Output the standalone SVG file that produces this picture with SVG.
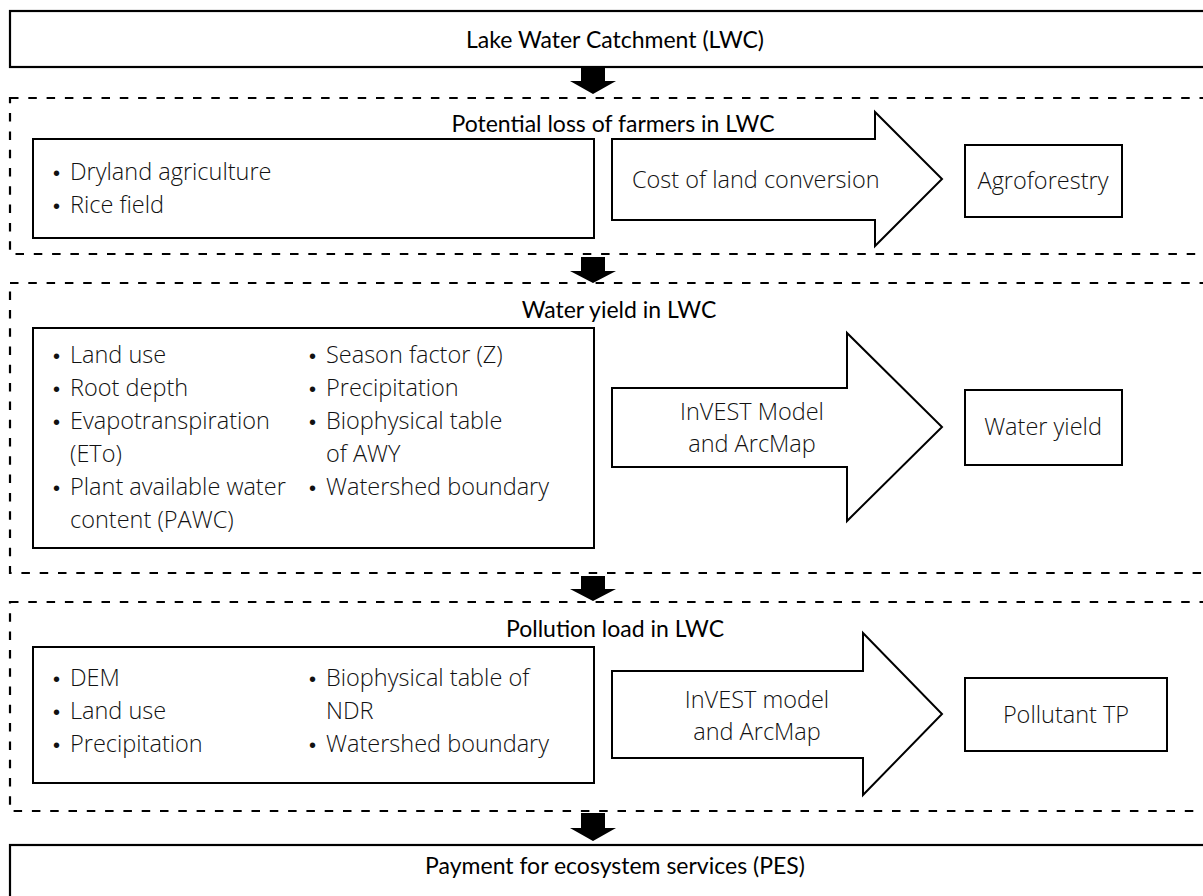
<svg xmlns="http://www.w3.org/2000/svg" width="1203" height="896" viewBox="0 0 1203 896">
<style>
.solid{fill:#fff;stroke:#000;stroke-width:2.2}
.dash{fill:none;stroke:#000;stroke-width:2.2;stroke-dasharray:8.5 9.8}
.box{fill:#fff;stroke:#000;stroke-width:2}
.title{font-family:Lato,"Liberation Sans",sans-serif;font-size:23px;fill:#000;text-anchor:middle}
.body{font-family:"Open Sans","Noto Sans",sans-serif;font-weight:300;font-size:23.5px;fill:#111}
.b{font-family:"Liberation Sans",sans-serif;font-weight:400;font-size:20px}
.mid{text-anchor:middle}
.dn{fill:#000}
</style>
<g id="lwc">
<rect class="solid" x="10" y="11" width="1210" height="56"/>
<text class="title" x="615" y="48">Lake Water Catchment (LWC)</text>
</g>
<g id="connectors">
<polygon class="dn" points="581,68 605,68 605,81 616,81 593,94 570,81 581,81"/>
<polygon class="dn" points="581,257 605,257 605,271 616,271 593,283 570,271 581,271"/>
<polygon class="dn" points="581,576 605,576 605,589 616,589 593,601 570,589 581,589"/>
<polygon class="dn" points="581,813 605,813 605,828 616,828 593,841 570,828 581,828"/>
</g>
<g id="loss">
<rect class="dash" x="10" y="98" width="1210" height="156"/>
<text class="title" x="613" y="132">Potential loss of farmers in LWC</text>
<rect class="box" x="33" y="139" width="561" height="99"/>
<text class="body"><tspan class="b" x="53" y="180">•</tspan><tspan x="70" y="180">Dryland agriculture</tspan><tspan class="b" x="53" y="213">•</tspan><tspan x="70" y="213">Rice field</tspan></text>
<path class="box" d="M612,139 H875 V112 L942,179 L875,246 V220 H612 Z"/>
<text class="body" x="632" y="188">Cost of land conversion</text>
<rect class="box" x="965" y="145" width="157" height="72"/>
<text class="body mid" x="1043" y="189">Agroforestry</text>
</g>
<g id="water">
<rect class="dash" x="10" y="283" width="1210" height="290"/>
<text class="title" x="619" y="318">Water yield in LWC</text>
<rect class="box" x="33" y="328" width="561" height="220"/>
<text class="body">
<tspan class="b" x="53" y="363">•</tspan><tspan x="70" y="363">Land use</tspan>
<tspan class="b" x="53" y="396">•</tspan><tspan x="70" y="396">Root depth</tspan>
<tspan class="b" x="53" y="429">•</tspan><tspan x="70" y="429">Evapotranspiration</tspan>
<tspan x="70" y="462">(ETo)</tspan>
<tspan class="b" x="53" y="495">•</tspan><tspan x="70" y="495">Plant available water</tspan>
<tspan x="70" y="528">content (PAWC)</tspan>
<tspan class="b" x="309" y="363">•</tspan><tspan x="326" y="363">Season factor (Z)</tspan>
<tspan class="b" x="309" y="396">•</tspan><tspan x="326" y="396">Precipitation</tspan>
<tspan class="b" x="309" y="429">•</tspan><tspan x="326" y="429">Biophysical table</tspan>
<tspan x="326" y="462">of AWY</tspan>
<tspan class="b" x="309" y="495">•</tspan><tspan x="326" y="495">Watershed boundary</tspan>
</text>
<path class="box" d="M612,388 H847 V333 L942,427 L847,521 V467 H612 Z"/>
<text class="body mid"><tspan x="752" y="420">InVEST Model</tspan><tspan x="752" y="452">and ArcMap</tspan></text>
<rect class="box" x="965" y="390" width="157" height="75"/>
<text class="body mid" x="1043" y="435">Water yield</text>
</g>
<g id="pollution">
<rect class="dash" x="10" y="602" width="1210" height="209"/>
<text class="title" x="615" y="637">Pollution load in LWC</text>
<rect class="box" x="33" y="647" width="561" height="136"/>
<text class="body">
<tspan class="b" x="53" y="686">•</tspan><tspan x="70" y="686">DEM</tspan>
<tspan class="b" x="53" y="719">•</tspan><tspan x="70" y="719">Land use</tspan>
<tspan class="b" x="53" y="752">•</tspan><tspan x="70" y="752">Precipitation</tspan>
<tspan class="b" x="309" y="686">•</tspan><tspan x="326" y="686">Biophysical table of</tspan>
<tspan x="326" y="719">NDR</tspan>
<tspan class="b" x="309" y="752">•</tspan><tspan x="326" y="752">Watershed boundary</tspan>
</text>
<path class="box" d="M612,671 H863 V633 L942,714 L863,795 V758 H612 Z"/>
<text class="body mid"><tspan x="757" y="708">InVEST model</tspan><tspan x="757" y="740">and ArcMap</tspan></text>
<rect class="box" x="965" y="678" width="202" height="73"/>
<text class="body mid" x="1066" y="723">Pollutant TP</text>
</g>
<g id="pes">
<rect class="solid" x="10" y="845" width="1210" height="80"/>
<text class="title" x="615" y="874">Payment for ecosystem services (PES)</text>
</g>
</svg>
